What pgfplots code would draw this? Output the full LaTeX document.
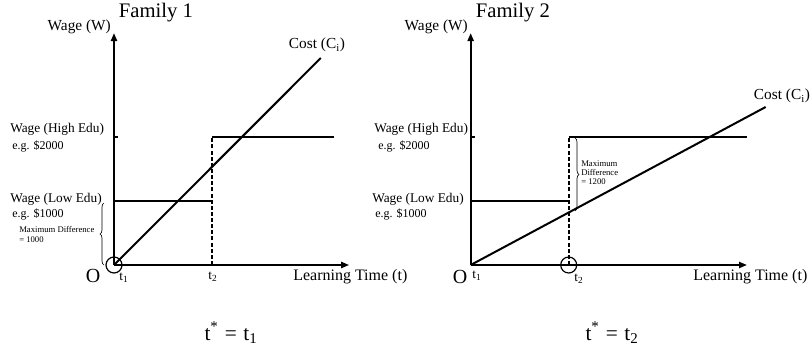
\documentclass[border=0pt]{standalone}
\usepackage{fontspec}
\setmainfont{Liberation Serif}
\usepackage{pgfplots}
\pgfplotsset{compat=1.18}
\usetikzlibrary{arrows.meta,decorations.pathreplacing}

\newcommand{\fs}[1]{\fontsize{#1}{#1}\selectfont}

\pgfplotsset{
  wagepanel/.style={
    anchor=origin, scale only axis, height=174pt,
    xmin=0, ymin=0, ymax=3625,
    axis lines=left,
    axis line style={line width=1.5pt, -{Triangle[length=6pt,width=4.5pt]}},
    xtick=\empty, ytick={2000}, yticklabels={},
    tick align=inside, major tick length=3pt,
    tick style={line width=1pt, black},
    clip=false,
  },
  wl/.style={black, line width=1.5pt},
}

\begin{document}
\begin{tikzpicture}[x=0.75pt, y=0.75pt]
\useasboundingbox (0,0) rectangle (812,347);

% Family 1
\begin{axis}[wagepanel, at={(85.5pt,61.5pt)}, xmax=2.4, width=176.4pt]
\addplot[wl] coordinates {(0,1000) (1,1000)};
\addplot[wl] coordinates {(1,2000) (2.245,2000)};
\addplot[wl, dash pattern=on 3pt off 1.6pt] coordinates {(1,0) (1,2000)};
\addplot[wl] coordinates {(0,0) (2.11,3234)};
\addplot[only marks, mark=o, mark size=6pt, mark options={line width=0.9pt}] coordinates {(0,0)};
\end{axis}

% Family 2
\begin{axis}[wagepanel, at={(353pt,61.5pt)}, xmax=2.82, width=207.3pt]
\addplot[wl] coordinates {(0,1000) (1,1000)};
\addplot[wl] coordinates {(1,2000) (2.82,2000)};
\addplot[wl, dash pattern=on 3pt off 1.6pt] coordinates {(1,0) (1,2000)};
\addplot[wl] coordinates {(0,0) (3.01,2469)};
\addplot[only marks, mark=o, mark size=6pt, mark options={line width=0.9pt}] coordinates {(1,0)};
\end{axis}

\begin{scope}[every node/.style={inner sep=0pt}]
% left texts
\node at (156,334) {\fs{15.5}Family 1};
\node[anchor=east] at (111,320) {\fs{11.5}Wage (W)};
\node at (317,302) {\fs{11.5}Cost (C\textsubscript{i})};
\node[anchor=west] at (10,218) {\fs{10}Wage (High Edu)};
\node[anchor=west] at (12,201) {\fs{9}e.g. \$2000};
\node[anchor=west] at (10,148) {\fs{10}Wage (Low Edu)};
\node[anchor=west] at (12,133) {\fs{9}e.g. \$1000};
\node[anchor=north west, align=left, font=\fontsize{6.5}{7.5}\selectfont] at (19,121) {Maximum Difference\\= 1000};
\draw[decorate, decoration={brace, amplitude=3pt}, line width=0.5pt] (104,82) -- (104,144);
\node at (93,71) {\fs{15}O};
\node at (124,69) {\fs{10}t\textsubscript{1}};
\node at (213,70) {\fs{10}t\textsubscript{2}};
\node[anchor=west] at (293,70) {\fs{12}Learning Time (t)};
\node at (231,14) {\fs{16}t\textsuperscript{*}\hspace{0.3em}=\hspace{0.3em}t\textsubscript{1}};

% right texts
\node at (513,334) {\fs{15.5}Family 2};
\node[anchor=east] at (468,320) {\fs{11.5}Wage (W)};
\node at (782,251) {\fs{11.5}Cost (C\textsubscript{i})};
\node[anchor=west] at (374,218) {\fs{10}Wage (High Edu)};
\node[anchor=west] at (378,201) {\fs{9}e.g. \$2000};
\node[anchor=west] at (372,148) {\fs{10}Wage (Low Edu)};
\node[anchor=west] at (375,133) {\fs{9}e.g. \$1000};
\draw[decorate, decoration={brace, amplitude=3pt}, line width=0.5pt] (575,209) -- (575,136);
\node[anchor=north west, align=left, font=\fontsize{6.5}{7}\selectfont] at (581,187) {Maximum\\Difference\\= 1200};
\node at (460,70) {\fs{15}O};
\node at (477,71) {\fs{10}t\textsubscript{1}};
\node at (579,68) {\fs{10}t\textsubscript{2}};
\node[anchor=west] at (693,70) {\fs{12}Learning Time (t)};
\node at (612,14) {\fs{16}t\textsuperscript{*}\hspace{0.3em}=\hspace{0.3em}t\textsubscript{2}};
\end{scope}
\end{tikzpicture}
\end{document}
